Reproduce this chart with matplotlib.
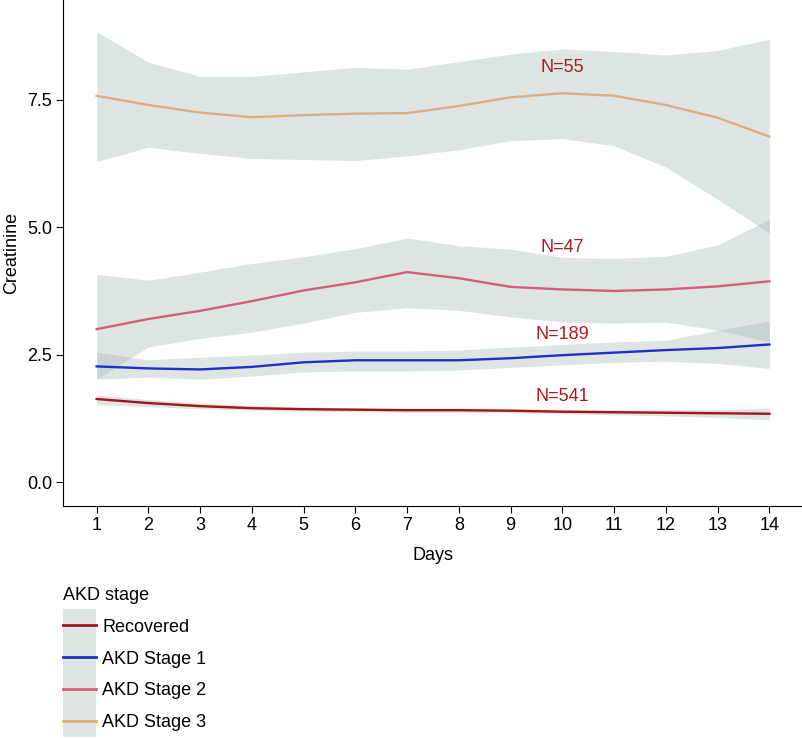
import numpy as np
import matplotlib
matplotlib.use("Agg")
import matplotlib.pyplot as plt
from matplotlib.lines import Line2D

plt.rcParams['font.family'] = ['Liberation Sans', 'DejaVu Sans']

days = np.arange(1, 15)

# smoothed creatinine curves with confidence bands
recovered = [1.63, 1.55, 1.49, 1.45, 1.43, 1.42, 1.41, 1.41, 1.40, 1.38, 1.37, 1.36, 1.35, 1.34]
recovered_hi = [1.71, 1.62, 1.55, 1.50, 1.47, 1.46, 1.45, 1.45, 1.44, 1.43, 1.42, 1.42, 1.42, 1.45]
recovered_lo = [1.52, 1.48, 1.44, 1.41, 1.39, 1.38, 1.37, 1.37, 1.36, 1.34, 1.32, 1.30, 1.27, 1.22]

stage1 = [2.27, 2.23, 2.21, 2.26, 2.35, 2.39, 2.39, 2.39, 2.43, 2.49, 2.54, 2.59, 2.63, 2.70]
stage1_hi = [2.55, 2.40, 2.45, 2.49, 2.55, 2.57, 2.57, 2.59, 2.65, 2.70, 2.75, 2.78, 2.98, 3.16]
stage1_lo = [2.02, 2.06, 2.02, 2.08, 2.16, 2.18, 2.18, 2.20, 2.25, 2.30, 2.35, 2.37, 2.33, 2.23]

stage2 = [3.00, 3.20, 3.36, 3.55, 3.76, 3.92, 4.12, 4.00, 3.83, 3.78, 3.75, 3.78, 3.84, 3.94]
stage2_hi = [4.08, 3.96, 4.12, 4.29, 4.42, 4.58, 4.79, 4.64, 4.57, 4.41, 4.39, 4.43, 4.65, 5.16]
stage2_lo = [2.02, 2.65, 2.82, 2.94, 3.12, 3.33, 3.42, 3.37, 3.24, 3.14, 3.12, 3.14, 2.98, 2.75]

stage3 = [7.58, 7.40, 7.25, 7.16, 7.20, 7.23, 7.24, 7.38, 7.55, 7.63, 7.58, 7.40, 7.15, 6.78]
stage3_hi = [8.84, 8.24, 7.96, 7.96, 8.05, 8.14, 8.10, 8.25, 8.40, 8.50, 8.45, 8.38, 8.47, 8.69]
stage3_lo = [6.29, 6.57, 6.45, 6.35, 6.33, 6.31, 6.40, 6.52, 6.70, 6.74, 6.60, 6.18, 5.55, 4.88]

labels = ['Recovered', 'AKD Stage 1', 'AKD Stage 2', 'AKD Stage 3']
colors = ['#A3141B', '#1B32C4', '#D45F78', '#DDAD7C']
n_labels = ['N=541', 'N=189', 'N=47', 'N=55']
n_y = [1.67, 2.90, 4.61, 8.14]

series = [(recovered, recovered_lo, recovered_hi),
          (stage1, stage1_lo, stage1_hi),
          (stage2, stage2_lo, stage2_hi),
          (stage3, stage3_lo, stage3_hi)]

band_color = '#A3B6B6'
band_alpha = 0.36

fig = plt.figure(figsize=(8.03, 7.38), dpi=100)
ax = fig.add_axes([63 / 803, 232 / 738, 740 / 803, 506 / 738])

for (mid, lo, hi), c in zip(series, colors):
    ax.fill_between(days, lo, hi, color=band_color, alpha=band_alpha, lw=0)
for (mid, lo, hi), c in zip(series, colors):
    ax.plot(days, mid, color=c, lw=1.7)

for t, yv in zip(n_labels, n_y):
    ax.text(10, yv, t, color='#AE1A1E', fontsize=13, ha='center', va='center')

ax.set_xlim(0.35, 14.65)
ax.set_ylim(-0.47, 9.46)
ax.set_xticks(days)
ax.set_yticks([0.0, 2.5, 5.0, 7.5])
ax.set_yticklabels(['0.0', '2.5', '5.0', '7.5'])
ax.tick_params(labelsize=13, length=5, width=0.8, colors='black', pad=3)
for s in ['top', 'right']:
    ax.spines[s].set_visible(False)
for s in ['left', 'bottom']:
    ax.spines[s].set_linewidth(0.8)
ax.set_xlabel('Days', fontsize=13, labelpad=9)
ax.set_ylabel('Creatinine', fontsize=13, labelpad=5)

# grey key background drawn as a thick butt-capped line so it stays centred
handles = [(Line2D([], [], color=band_color, alpha=band_alpha, lw=23.0, solid_capstyle='butt'),
            Line2D([], [], color=c, lw=2)) for c in colors]
leg = fig.legend(handles, labels, loc='upper left',
                 bbox_to_anchor=(63 / 803, 1 - 587 / 738),
                 frameon=False, fontsize=13, title='AKD stage', title_fontsize=13,
                 alignment='left', borderpad=0, borderaxespad=0,
                 labelspacing=0.82, handleheight=0.7, handlelength=1.83, handletextpad=0.35)

fig.savefig('out.png', dpi=100)
